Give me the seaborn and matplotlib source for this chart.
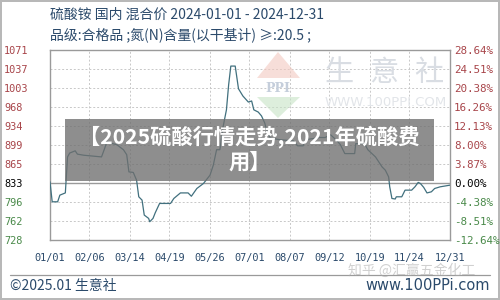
import matplotlib
matplotlib.use("Agg")
import matplotlib.pyplot as plt
import seaborn as sns
import numpy as np
import pandas as pd
from matplotlib.patches import Rectangle, Polygon

# ---------------- data ----------------
dates = ["2024-01-01", "2024-01-03", "2024-01-08", "2024-01-10", "2024-01-15", "2024-01-17",
         "2024-01-19", "2024-01-24", "2024-01-26", "2024-02-01", "2024-02-17", "2024-02-20",
         "2024-02-22", "2024-02-25", "2024-03-02", "2024-03-08", "2024-03-11", "2024-03-13",
         "2024-03-17", "2024-03-20", "2024-03-22", "2024-03-25", "2024-03-27", "2024-03-31",
         "2024-04-01", "2024-04-04", "2024-04-06", "2024-04-10", "2024-04-20", "2024-04-23",
         "2024-04-29", "2024-05-06", "2024-05-09", "2024-05-14", "2024-05-20", "2024-05-26",
         "2024-05-29", "2024-06-01", "2024-06-04", "2024-06-07", "2024-06-10", "2024-06-12",
         "2024-06-14", "2024-06-18", "2024-06-21", "2024-06-25", "2024-06-30", "2024-07-03",
         "2024-07-05", "2024-07-09", "2024-07-12", "2024-07-15", "2024-07-17", "2024-07-20",
         "2024-07-29", "2024-08-10", "2024-08-14", "2024-08-19", "2024-08-21", "2024-09-03",
         "2024-09-08", "2024-09-13", "2024-09-19", "2024-09-22", "2024-09-26", "2024-10-05",
         "2024-10-06", "2024-10-14", "2024-10-17", "2024-10-24", "2024-10-30", "2024-11-02",
         "2024-11-05", "2024-11-06", "2024-11-08", "2024-11-11", "2024-11-12", "2024-11-17",
         "2024-11-20", "2024-11-26", "2024-11-29", "2024-12-02", "2024-12-04", "2024-12-07",
         "2024-12-10", "2024-12-14", "2024-12-17", "2024-12-22", "2024-12-28", "2024-12-31"]
prices = [833, 797, 797, 809, 813, 878,
          885, 889, 883, 881, 878, 894,
          906, 903, 900, 891, 882, 851,
          850, 836, 806, 800, 773, 767,
          761, 767, 777, 794, 794, 803,
          813, 813, 807, 821, 830, 845,
          863, 891, 891, 933, 963, 1008,
          1042, 1042, 1001, 988, 977, 979,
          963, 959, 952, 939, 923, 912,
          909, 907, 898, 898, 909, 913,
          913, 918, 907, 900, 884, 884,
          902, 902, 891, 878, 860, 854,
          842, 824, 803, 802, 806, 806,
          818, 818, 824, 832, 830, 823,
          813, 815, 821, 824, 826, 827]

y_labels_left = ["728", "762", "796", "833", "865", "899", "934", "968", "1003", "1037", "1071"]
y_labels_right = ["-12.64%", "-8.51%", "-4.38%", "0.00%", "3.87%", "8.00%", "12.13%",
                  "16.26%", "20.38%", "24.51%", "28.64%"]
x_tick_dates = ["2024-01-01", "2024-02-06", "2024-03-14", "2024-04-19", "2024-05-26", "2024-07-01",
                "2024-08-07", "2024-09-12", "2024-10-19", "2024-11-24", "2024-12-31"]
x_tick_labels = ["01/01", "02/06", "03/14", "04/19", "05/26", "07/01",
                 "08/07", "09/12", "10/19", "11/24", "12/31"]

title1 = "硫酸铵 国内 混合价 2024-01-01 - 2024-12-31"
title2 = "品级:合格品 ;氮(N)含量(以干基计) ≥:20.5 ;"
banner = "【2025硫酸行情走势,2021年硫酸费\n用】"
watermark_chars = ["生", "意", "社"]

# ---------------- style ----------------
sns.set_theme(style="white")
plt.rcParams["font.family"] = ["Noto Sans CJK SC", "DejaVu Sans"]

df = pd.DataFrame({"date": pd.to_datetime(dates), "price": prices})

fig = plt.figure(figsize=(5, 3), dpi=100)
fig.patch.set_facecolor("white")
fig.patch.set_edgecolor("#b8b8b8")
fig.patch.set_linewidth(1.5)

ax = fig.add_axes([0.1, 0.2, 0.8, 0.6333])
ymin, ymax = 728, 1071
ax.set_ylim(ymin, ymax)
ax.set_xlim(pd.Timestamp("2024-01-01"), pd.Timestamp("2024-12-31"))

# watermark logo
wm_col = "#d9dde3"
for i, ch in enumerate(watermark_chars):
    fig.text((339 + 45 * i) / 500, 1 - 73 / 300, ch, fontsize=21, color=wm_col,
             ha="center", va="center", family=["Noto Sans CJK SC"], zorder=0)
fig.text(386 / 500, 1 - 103 / 300, "WWW.100PPI.COM", fontsize=9.5, color="#e2e5e9",
         ha="center", va="center", family=["DejaVu Sans"], zorder=0)
fig.patches.append(Polygon([[257 / 500, 1 - 78 / 300], [278 / 500, 1 - 52 / 300],
                            [300 / 500, 1 - 78 / 300]], closed=True,
                           transform=fig.transFigure, facecolor="#f3c9c0", edgecolor="none",
                           alpha=0.6, zorder=0))
fig.patches.append(Polygon([[257 / 500, 1 - 97 / 300], [278 / 500, 1 - 118 / 300],
                            [300 / 500, 1 - 97 / 300]], closed=True,
                           transform=fig.transFigure, facecolor="#c7e3c6", edgecolor="none",
                           alpha=0.6, zorder=0))
fig.text(278 / 500, 1 - 88 / 300, "PPI", fontsize=9, color="#c5cedb", ha="center", va="center",
         family=["DejaVu Serif"], weight="bold", zorder=0)
ax.set_facecolor("none")

yt = np.linspace(ymin, ymax, len(y_labels_left))
ax.set_yticks(yt)
ax.set_yticklabels(y_labels_left)
ax.set_xticks(pd.to_datetime(x_tick_dates))
ax.set_xticklabels(x_tick_labels)

ax.grid(True, which="major", linestyle=(0, (2, 2)), color="#c8c8c8", linewidth=0.7)
ax.axhline(yt[3], color="#9a9a9a", linewidth=1.0, zorder=1)

sns.lineplot(data=df, x="date", y="price", ax=ax, color="#41707e", linewidth=0.9,
             zorder=3, legend=False)
ax.set_xlabel("")
ax.set_ylabel("")

for s in ax.spines.values():
    s.set_color("#9a9a9a")
    s.set_linewidth(1.0)

up_col = "#a8454a"
dn_col = "#4a8a4a"
left_cols = [dn_col, dn_col, dn_col, "black"] + [up_col] * 7

ax.tick_params(axis="y", length=0, pad=33, labelsize=7.4)
for lab, c in zip(ax.get_yticklabels(), left_cols):
    lab.set_color(c)
    lab.set_horizontalalignment("left")
    lab.set_family(["DejaVu Sans Mono"])
ax.tick_params(axis="x", length=0, pad=9, labelsize=7.4, labelcolor="#2b4a6b")
for lab in ax.get_xticklabels():
    lab.set_family(["DejaVu Sans Mono"])

ax2 = ax.twinx()
ax2.set_ylim(ymin, ymax)
ax2.set_yticks(yt)
ax2.set_yticklabels(y_labels_right)
ax2.tick_params(axis="y", length=0, pad=3, labelsize=7.8)
for lab, c in zip(ax2.get_yticklabels(), left_cols):
    lab.set_color(c)
    lab.set_family(["DejaVu Sans Mono"])
for s in ax2.spines.values():
    s.set_visible(False)
ax2.grid(False)

# titles
tcol = "#2b4a6b"
fig.text(0.1, 1 - 15 / 300, title1, fontsize=10, color=tcol, ha="left", va="center")
fig.text(0.1, 1 - 35 / 300, title2, fontsize=10, color=tcol, ha="left", va="center")

# banner overlay
fig.patches.append(Rectangle((65 / 500, 1 - 181 / 300), (434 - 65) / 500, 62 / 300,
                             transform=fig.transFigure, facecolor="#6f6f6f", alpha=0.78,
                             edgecolor="none", zorder=5))
fig.text(0.499, 1 - 149 / 300, banner, fontsize=15.3, color="white", weight="bold",
         ha="center", va="center", linespacing=1.18, zorder=6)

# footer
fig.add_artist(plt.Line2D([0.02, 0.98], [1 - 275 / 300, 1 - 275 / 300],
                          transform=fig.transFigure, color="#9a9a9a", linewidth=0.9))
fig.text(0.02, 1 - 286 / 300, "©2025.01 生意社", fontsize=10, color=tcol, ha="left", va="center")
fig.text(0.98, 1 - 286 / 300, "www.100PPi.com", fontsize=10.5, color=tcol, ha="right", va="center",
         family=["DejaVu Sans"])
fig.text(0.95, 1 - 271 / 300, "知乎 @汇赢五金化工", fontsize=10, color="#aaaaaa", alpha=0.55,
         ha="right", va="center")

fig.savefig("out.png", dpi=100, facecolor=fig.get_facecolor(), edgecolor=fig.get_edgecolor())
